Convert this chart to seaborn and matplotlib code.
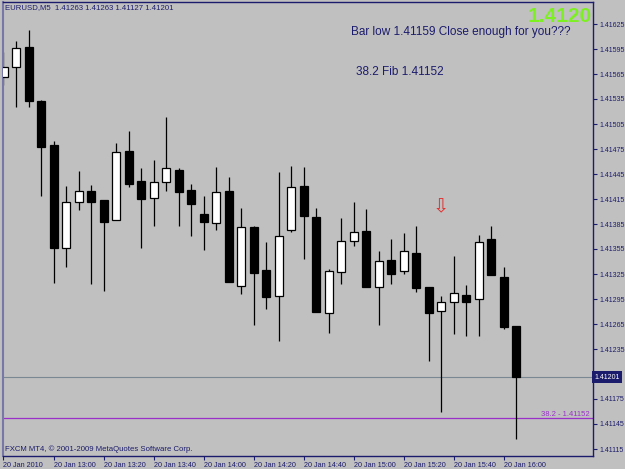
import numpy as np
import pandas as pd
import matplotlib
matplotlib.use('Agg')
import matplotlib.pyplot as plt
import seaborn as sns

# EURUSD M5 bars, 20 Jan 2010 12:40 - 16:05
times = ['12:40', '12:45', '12:50', '12:55', '13:00', '13:05', '13:10', '13:15',
         '13:20', '13:25', '13:30', '13:35', '13:40', '13:45', '13:50', '13:55',
         '14:00', '14:05', '14:10', '14:15', '14:20', '14:25', '14:30', '14:35',
         '14:40', '14:45', '14:50', '14:55', '15:00', '15:05', '15:10', '15:15',
         '15:20', '15:25', '15:30', '15:35', '15:40', '15:45', '15:50', '15:55',
         '16:00', '16:05']
opens = [1.41561, 1.41573, 1.41597, 1.41533, 1.41480, 1.41356, 1.41411, 1.41425,
         1.41414, 1.41390, 1.41472, 1.41437, 1.41416, 1.41435, 1.41450, 1.41426,
         1.41397, 1.41386, 1.41425, 1.41311, 1.41381, 1.41330, 1.41299, 1.41378,
         1.41431, 1.41393, 1.41278, 1.41327, 1.41365, 1.41377, 1.41310, 1.41342,
         1.41328, 1.41350, 1.41309, 1.41281, 1.41291, 1.41300, 1.41295, 1.41367,
         1.41321, 1.41263]
highs = [1.41592, 1.41605, 1.41618, 1.41534, 1.41485, 1.41431, 1.41449, 1.41432,
         1.41414, 1.41482, 1.41497, 1.41452, 1.41462, 1.41514, 1.41452, 1.41433,
         1.41419, 1.41453, 1.41442, 1.41404, 1.41382, 1.41363, 1.41447, 1.41455,
         1.41453, 1.41404, 1.41331, 1.41392, 1.41412, 1.41403, 1.41352, 1.41367,
         1.41374, 1.41383, 1.41309, 1.41299, 1.41347, 1.41312, 1.41372, 1.41383,
         1.41333, 1.41263]
lows = [1.41552, 1.41526, 1.41526, 1.41419, 1.41314, 1.41334, 1.41402, 1.41313,
        1.41304, 1.41390, 1.41429, 1.41356, 1.41382, 1.41425, 1.41382, 1.41371,
        1.41354, 1.41378, 1.41316, 1.41301, 1.41264, 1.41283, 1.41245, 1.41376,
        1.41343, 1.41279, 1.41254, 1.41313, 1.41359, 1.41310, 1.41264, 1.41313,
        1.41325, 1.41303, 1.41221, 1.41159, 1.41253, 1.41251, 1.41250, 1.41324,
        1.41259, 1.41127]
closes = [1.41573, 1.41596, 1.41533, 1.41477, 1.41356, 1.41411, 1.41425, 1.41412,
          1.41387, 1.41472, 1.41433, 1.41415, 1.41435, 1.41452, 1.41424, 1.41409,
          1.41387, 1.41423, 1.41316, 1.41381, 1.41326, 1.41297, 1.41371, 1.41429,
          1.41395, 1.41279, 1.41329, 1.41365, 1.41376, 1.41310, 1.41341, 1.41325,
          1.41352, 1.41308, 1.41278, 1.41291, 1.41302, 1.41292, 1.41363, 1.41324,
          1.41262, 1.41201]

tick_bars = [0, 4, 8, 12, 16, 20, 24, 28, 32, 36, 40]
tick_labels = ['20 Jan 2010', '20 Jan 13:00', '20 Jan 13:20', '20 Jan 13:40',
               '20 Jan 14:00', '20 Jan 14:20', '20 Jan 14:40', '20 Jan 15:00',
               '20 Jan 15:20', '20 Jan 15:40', '20 Jan 16:00']
price_ticks = [1.41115, 1.41145, 1.41175, 1.41235, 1.41265, 1.41295, 1.41325,
               1.41355, 1.41385, 1.41415, 1.41445, 1.41475, 1.41505, 1.41535,
               1.41565, 1.41595, 1.41625]
bid_price = 1.41201
fib_price = 1.41152
arrow_bar = 35
arrow_price = 1.41406

navy = '#1c1c6c'
bg = '#c0c0c0'

sns.set_theme(style='white', rc={'axes.facecolor': bg, 'figure.facecolor': bg})
plt.rcParams['font.family'] = ['Liberation Sans', 'DejaVu Sans']

df = pd.DataFrame({'time': times, 'open': opens, 'high': highs,
                   'low': lows, 'close': closes})
df['bar'] = np.arange(len(df))
df['up'] = df['close'] >= df['open']

fig = plt.figure(figsize=(6.25, 4.69), dpi=100)
ax = fig.add_axes([3 / 625, 13 / 469, 590 / 625, 454 / 469])

ax.axhline(bid_price, color='#7a8894', lw=0.8, zorder=1)
ax.axhline(fib_price, color='#9a30c8', lw=0.9, zorder=1)

ax.vlines(df['bar'], df['low'], df['high'], color='black', lw=0.9, zorder=2)
ax.bar(df['bar'], (df['close'] - df['open']).abs(),
       bottom=df[['open', 'close']].min(axis=1), width=0.64,
       color=np.where(df['up'], 'white', 'black'), edgecolor='black',
       linewidth=0.9, zorder=3)

ax.text(arrow_bar, arrow_price, '\u21e9', color='#e03030', ha='center',
        va='center', fontsize=14, family='DejaVu Sans', zorder=4)

ax.text(0.995, fib_price, '38.2 - 1.41152', transform=ax.get_yaxis_transform(),
        ha='right', va='bottom', fontsize=5.5, color='#9a30c8')
ax.text(1.002, bid_price, '1.41201', transform=ax.get_yaxis_transform(),
        ha='left', va='center', fontsize=5, color='white', clip_on=False,
        bbox=dict(facecolor=navy, edgecolor='none', pad=1.8), zorder=5)

ax.set_xlim(-0.04, 47.16)
ax.set_ylim(1.411066, 1.416514)

ax.set_xticks(tick_bars)
ax.set_xticklabels(tick_labels, ha='left')
ax.set_yticks(price_ticks)
ax.set_yticklabels([f'{p:.5f}' for p in price_ticks])
ax.yaxis.tick_right()
ax.tick_params(axis='x', bottom=True, direction='out', length=3, width=0.8,
               colors=navy, labelsize=5.2, pad=1)
ax.tick_params(axis='y', right=True, left=False, direction='out', length=3,
               width=0.8, colors=navy, labelsize=5, pad=2)
for side in ['top', 'bottom', 'right']:
    ax.spines[side].set_color(navy)
    ax.spines[side].set_linewidth(1)
ax.spines['left'].set_color('#7878a8')
ax.spines['left'].set_linewidth(1.5)
ax.grid(False)

fig.text(5 / 625, 1 - 8 / 469, 'EURUSD,M5  1.41263 1.41263 1.41127 1.41201',
         fontsize=5.6, color=navy, va='center')
fig.text(351 / 625, 1 - 32 / 469, 'Bar low 1.41159 Close enough for you???',
         fontsize=8.5, color=navy, va='center')
fig.text(356 / 625, 1 - 72 / 469, '38.2 Fib 1.41152',
         fontsize=8.5, color=navy, va='center')
fig.text(592 / 625, 1 - 17 / 469, '1.4120', fontsize=15, fontweight='bold',
         color='#7cf020', ha='right', va='center')
fig.text(5 / 625, 1 - 449 / 469, 'FXCM MT4, \u00a9 2001-2009 MetaQuotes Software Corp.',
         fontsize=5.6, color=navy, va='center')

fig.savefig('out.png', dpi=100)
